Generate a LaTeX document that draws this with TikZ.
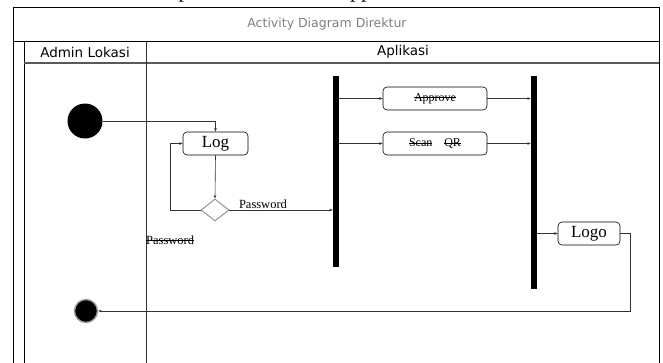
\documentclass[tikz,border=0pt]{standalone}
\usepackage{fontspec}
\setmainfont{Liberation Serif}
\newfontfamily\verd{DejaVu Sans}
\newlength\strkw
\newcommand\strk[1]{\settowidth\strkw{#1}\rlap{\rule[0.26em]{\strkw}{0.6pt}}#1}
\usetikzlibrary{shapes.geometric,arrows.meta}
\begin{document}
\begin{tikzpicture}[x=1pt,y=-1pt,
  frame/.style={draw=black,line width=0.9pt},
  act/.style={draw=black,rounded corners=4pt,line width=0.6pt,minimum height=23pt,inner sep=0pt,font=\fontsize{12}{13}\selectfont},
  bar/.style={fill=black,draw=none,minimum width=6pt,inner sep=0pt},
  conn/.style={draw=black!80,line width=0.6pt},
  arr/.style={conn,-{Stealth[length=3.5pt,width=2.6pt]}},
  lane/.style={font=\verd\fontsize{13.5}{15}\selectfont}
]
\useasboundingbox (0,0) rectangle (663,362);
% cut caption above
\node[anchor=base,font=\fontsize{22}{24}\selectfont,inner sep=0pt] (capa) at (184,-3) {p};
\node[anchor=base,font=\fontsize{22}{24}\selectfont,inner sep=0pt] (capb) at (361,-3) {pp};
% frame
\draw[frame] (13,375) -- (13,7) -- (659,7) -- (659,375);
\draw[frame] (13,41) -- (659,41);
\draw[frame] (24,41) -- (24,375);
\draw[draw=black!65,line width=1.3pt] (24,63) -- (659,63);
\draw[draw=black!80,line width=1pt] (146,41) -- (146,375);
\node[font=\verd\fontsize{12.5}{14}\selectfont,text=black!50] (title) at (327,24) {Activity Diagram Direktur};
\node[lane] (la) at (85,52) {Admin Lokasi};
\node[lane] (lb) at (403,52) {Aplikasi};
% nodes
\node[circle,fill=black,minimum size=35pt,inner sep=0pt] (start) at (85,121) {};
\node[act,minimum width=65pt,font=\fontsize{17}{18}\selectfont] (log) at (215.5,143.5) {Log};
\node[diamond,draw=black!45,line width=0.9pt,minimum width=28pt,minimum height=22pt,inner sep=0pt] (dec) at (215,210) {};
\node[bar,minimum height=191pt] (bar1) at (336,171.5) {};
\node[act,minimum width=104pt] (approve) at (435,98.5) {\strk{Approve}};
\node[act,minimum width=104pt] (scan) at (435,143.5) {\strk{Scan}\quad\strk{QR}};
\node[bar,minimum height=213pt] (bar2) at (534,182.5) {};
\node[act,minimum width=62pt,font=\fontsize{17}{18}\selectfont] (logo) at (589,233.5) {Logo};
\node[circle,fill=black,draw=black!40,line width=1.4pt,minimum size=23pt,inner sep=0pt] (end) at (86,311) {};
\node[anchor=west,inner sep=0pt,font=\fontsize{12.5}{14}\selectfont] (pw2) at (146,240) {\strk{Password}};
% connectors
\draw[arr] (start.east) -| (log.north);
\draw[arr] (log.south) -- (dec.north);
\draw[arr] (dec.west) -- ++(-30,0) |- (log.west);
\draw[arr] (dec.east) -- (dec.east -| bar1.west) node[pos=0.08,above right,inner sep=1pt,font=\fontsize{12.5}{14}\selectfont] (pw1) {Password};
\draw[arr] (bar1.east |- approve.west) -- (approve.west);
\draw[arr] (bar1.east |- scan.west) -- (scan.west);
\draw[arr] (approve.east) -- (approve.east -| bar2.west);
\draw[arr] (scan.east) -- (scan.east -| bar2.west);
\draw[arr] (bar2.east |- logo.west) -- (logo.west);
\draw[arr] (logo.east) -- ++(10,0) |- (end.east);
\end{tikzpicture}
\end{document}
